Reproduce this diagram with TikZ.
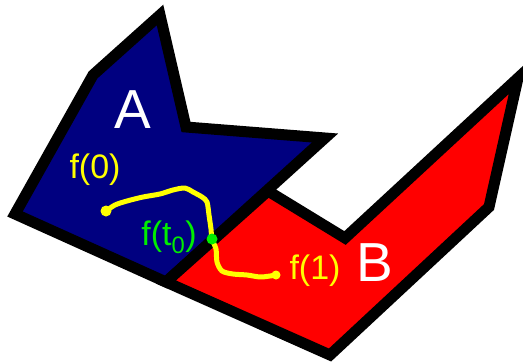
\documentclass[tikz,border=0pt]{standalone}
\usepackage{fontspec}
\setmainfont{Liberation Sans}
\definecolor{navyA}{RGB}{0,0,128}
\definecolor{redB}{RGB}{255,0,0}
\definecolor{yel}{RGB}{255,255,0}
\definecolor{grn}{RGB}{0,238,0}
\begin{document}
\begin{tikzpicture}[x=1pt,y=-1pt,
  region/.style={draw=black,line width=11pt,line join=miter,miter limit=10},
  biglabel/.style={text=white,font=\fontsize{55}{55}\selectfont,inner sep=0pt},
  flabel/.style={font=\fontsize{34}{34}\selectfont,inner sep=0pt},
  pathline/.style={yel,line width=5pt,line cap=round,line join=round}]
\useasboundingbox (0,0) rectangle (523,364);
% region A
\draw[region,fill=navyA] (160,15) -- (93,75) -- (15,214) -- (166,282) -- (325,138) -- (186,127) -- cycle;
% region B
\draw[region,fill=redB] (166,282) -- (268,191) -- (345,238) -- (518,78) -- (489,207) -- (330,355) -- cycle;
% labels
\node[biglabel] (A) at (133,110) {A};
\node[biglabel] (B) at (375,263) {B};
\node[flabel,text=yel] (f0) at (95,170) {f(0)};
\node[flabel,text=yel] (f1) at (315,271) {f(1)};
\node[flabel,text=grn] (ft) at (169,237) {f(t\textsubscript{0})};
% path
\coordinate (p0) at (106,211);
\coordinate (pt) at (212,239);
\coordinate (p1) at (276,275);
\draw[pathline] plot[smooth,tension=0.5] coordinates {(p0) (115,205) (127,201) (143,197) (160,194) (173,190) (185,188) (193,192) (202,197) (207,202) (209,215) (211,229) (pt) (216,249) (217,262) (222,271) (233,274) (247,275) (261,277) (p1)};
\fill[yel] (p0) circle (5.5);
\fill[yel] (p1) circle (4.5);
\fill[grn] (pt) circle (5.5);
\end{tikzpicture}
\end{document}
